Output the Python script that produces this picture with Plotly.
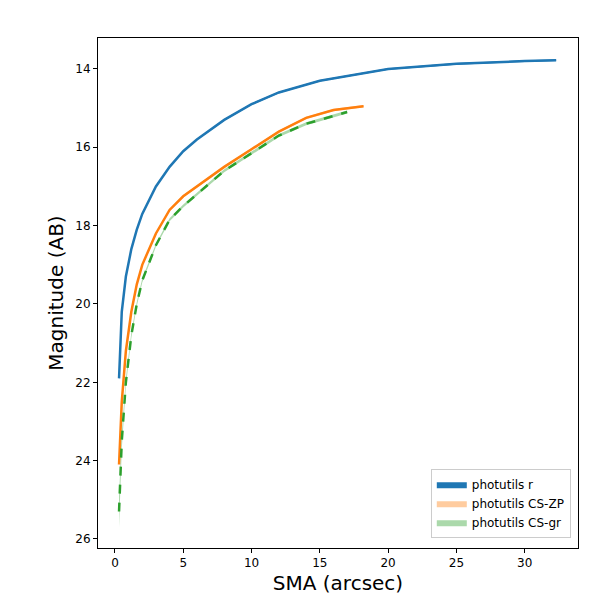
import plotly.graph_objects as go

x_r = [0.3,0.5,0.8,1.2,1.6,2,3,4,5,6,8,10,12,15,20,25,30,32.3]
y_r = [21.9,20.2,19.3,18.6,18.1,17.7,17.0,16.5,16.1,15.8,15.3,14.9,14.6,14.3,14.0,13.87,13.8,13.78]
e_r = [0.05,0.04,0.03,0.03,0.03,0.03,0.02,0.02,0.02,0.02,0.02,0.02,0.02,0.02,0.02,0.02,0.02,0.02]
x_zp = [0.3,0.5,0.8,1.2,1.6,2,3,4,5,6,8,10,12,14,16,18.2]
y_zp = [24.1,22.5,21.2,20.2,19.5,19.0,18.2,17.6,17.25,17.0,16.5,16.05,15.6,15.25,15.05,14.95]
e_zp = [0.08,0.06,0.05,0.04,0.04,0.03,0.03,0.03,0.03,0.03,0.03,0.03,0.03,0.03,0.03,0.03]
x_gr = [0.3,0.5,0.8,1.2,1.6,2,3,4,5,6,8,10,12,14,16,17]
y_gr = [25.3,23.5,22.0,20.8,20.0,19.4,18.5,17.85,17.5,17.2,16.6,16.15,15.7,15.4,15.2,15.1]
e_gr = [0.4,0.2,0.1,0.07,0.05,0.05,0.04,0.04,0.04,0.04,0.04,0.04,0.04,0.04,0.04,0.04]

fig = go.Figure()
specs = [("photutils r", x_r, y_r, e_r, "#1f77b4", "rgba(31,119,180,1)", "solid"),
         ("photutils CS-ZP", x_zp, y_zp, e_zp, "#ff7f0e", "rgba(255,127,14,0.4)", "solid"),
         ("photutils CS-gr", x_gr, y_gr, e_gr, "#2ca02c", "rgba(44,160,44,0.4)", "dash")]
for name, x, y, e, c, fc, d in specs:
    up = [a - b for a, b in zip(y, e)]
    lo = [a + b for a, b in zip(y, e)]
    fig.add_trace(go.Scatter(x=x + x[::-1], y=up + lo[::-1], fill="toself", fillcolor=fc,
                             line=dict(width=0), mode="lines", name=name, hoverinfo="skip"))
    fig.add_trace(go.Scatter(x=x, y=y, mode="lines", line=dict(color=c, width=2.5, dash=d),
                             showlegend=False))

ax = dict(showgrid=False, zeroline=False, showline=True, mirror=True, linecolor="black",
          ticks="outside", tickcolor="black", ticklen=4, tickfont=dict(size=12, color="black"),
          automargin=False)
fig.update_layout(
    width=600, height=600, plot_bgcolor="white", paper_bgcolor="white",
    margin=dict(l=90, r=30, t=30, b=60),
    font=dict(family="DejaVu Sans", color="black"),
    xaxis=dict(**ax, range=[-1.24, 33.9], tickvals=[0,5,10,15,20,25,30],
               title=dict(text="SMA (arcsec)", font=dict(size=20), standoff=6)),
    yaxis=dict(**ax, range=[26.23, 13.21], tickvals=[14,16,18,20,22,24,26],
               title=dict(text="Magnitude (AB)", font=dict(size=20), standoff=6)),
    legend=dict(x=0.985, y=0.02, xanchor="right", yanchor="bottom", bordercolor="#cccccc",
                borderwidth=1, font=dict(size=12), bgcolor="rgba(255,255,255,0.8)"),
)
fig.write_html("out.html")
